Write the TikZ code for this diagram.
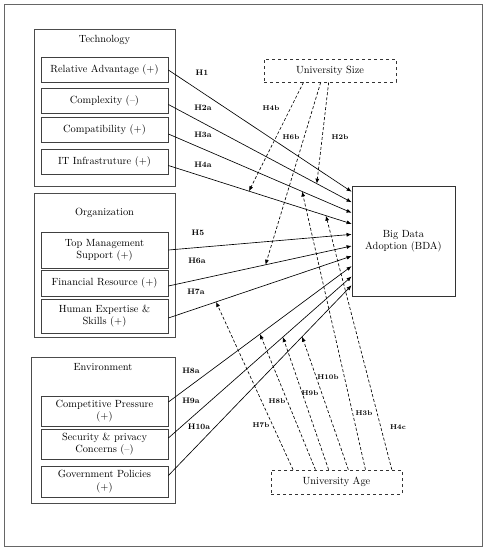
\documentclass[tikz,border=0pt]{standalone}
\usetikzlibrary{arrows.meta,calc}

\begin{document}
\begin{tikzpicture}[x=1pt,y=-1pt,
  factor/.style={draw=black!75,line width=0.8pt,minimum width=127pt,minimum height=25pt,
    inner sep=1pt,align=center,font=\fontsize{10.4}{12.5}\selectfont},
  group/.style={draw=black!70,line width=0.8pt},
  title/.style={font=\fontsize{10.4}{12.5}\selectfont},
  moderator/.style={draw=black!80,dashed,line width=0.7pt,minimum height=23pt,
    font=\fontsize{10.4}{12.5}\selectfont},
  effect/.style={-{Latex[length=5pt,width=4pt]},line width=0.65pt},
  moderation/.style={effect,dash pattern=on 3pt off 2pt},
  hyp/.style={font=\fontsize{8}{9}\selectfont\bfseries,inner sep=0pt},
  hypsmall/.style={font=\fontsize{7}{8}\selectfont\bfseries,inner sep=0pt}]
  \useasboundingbox (0,0) rectangle (487,550);
  \draw[black!60,line width=1pt] (4,4) rectangle (482,546);

  %technology group
  \draw[group] (34,29) rectangle (175,186);
  \node[title] (tech) at (104.5,40) {Technology};
  \node[factor] (ra) at (104.5,70) {Relative Advantage (+)};
  \node[factor] (cx) at (104.5,100.5) {Complexity (--)};
  \node[factor] (cp) at (104.5,130) {Compatibility (+)};
  \node[factor] (it) at (104.5,161.5) {IT Infrastruture (+)};

  %organization group
  \draw[group] (34,193) rectangle (175,337);
  \node[title] (org) at (104.5,213) {Organization};
  \node[factor,minimum height=36pt] (tm) at (104.5,250) {Top Management\\Support (+)};
  \node[factor,minimum height=26pt] (fr) at (104.5,283) {Financial Resource (+)};
  \node[factor,minimum height=34pt] (he) at (104.5,316) {Human Expertise \&\\Skills (+)};

  %environment group
  \draw[group] (31,357) rectangle (175,503);
  \node[title] (env) at (103,367) {Environment};
  \node[factor,minimum height=30pt] (cmp) at (104.5,411) {Competitive Pressure\\(+)};
  \node[factor,minimum height=30pt] (sp) at (104.5,444) {Security \& privacy\\Concerns (--)};
  \node[factor,minimum height=31pt] (gp) at (104.5,481.5) {Government Policies\\(+)};

  %outcome and moderators
  \node[draw=black!80,line width=0.8pt,minimum width=103pt,minimum height=110pt,align=center,
    font=\fontsize{10.4}{12.5}\selectfont] (bda) at (403.5,241) {Big Data\\Adoption (BDA)};
  \node[moderator,minimum width=132pt] (size) at (330,70.5) {University Size};
  \node[moderator,minimum width=131pt,minimum height=24pt] (age) at (336.5,482) {University Age};

  %direct effects
  \foreach \i/\src/\dy/\f in {1/ra/0/0.055, 2/cx/4/0.15, 3/cp/4/0.245, 4/it/4/0.345,
      5/tm/0/0.44, 6/fr/3/0.545, 7/he/2/0.636, 8/cmp/-9/0.727, 9/sp/-6/0.82, 10/gp/-6/0.9} {
    \coordinate (s\i) at ($(\src.east)+(0,\dy)$);
    \coordinate (t\i) at ($(bda.north west)!\f!(bda.south west)$);
    \draw[effect] (s\i) -- (t\i);
  }
  \foreach \h/\x/\y in {H1/202/73, H2a/203/108, H3a/203/135, H4a/203/165, H5/198/233,
      H6a/197/261, H7a/196/292, H8a/191/371, H9a/191/401, H10a/199/427}
    \node[hyp] (l\h) at (\x,\y) {\h};

  %moderating effects
  \foreach \a/\j/\p in {0.30/4/0.44, 0.43/6/0.53, 0.49/2/0.81}
    \draw[moderation] ($(size.south west)!\a!(size.south east)$) -- ($(s\j)!\p!(t\j)$);
  \foreach \a/\j/\p in {0.17/7/0.26, 0.34/8/0.5, 0.44/9/0.625, 0.59/10/0.73, 0.72/3/0.73, 0.92/4/0.86}
    \draw[moderation] ($(age.north west)!\a!(age.north east)$) -- ($(s\j)!\p!(t\j)$);
  \foreach \h/\x/\y in {H4b/271/108, H6b/291/137, H2b/340/137, H7b/261/425, H8b/277/401,
      H9b/310/393, H10b/328/377, H3b/364/413, H4c/398/427}
    \node[hypsmall] (l\h) at (\x,\y) {\h};
\end{tikzpicture}
\end{document}
